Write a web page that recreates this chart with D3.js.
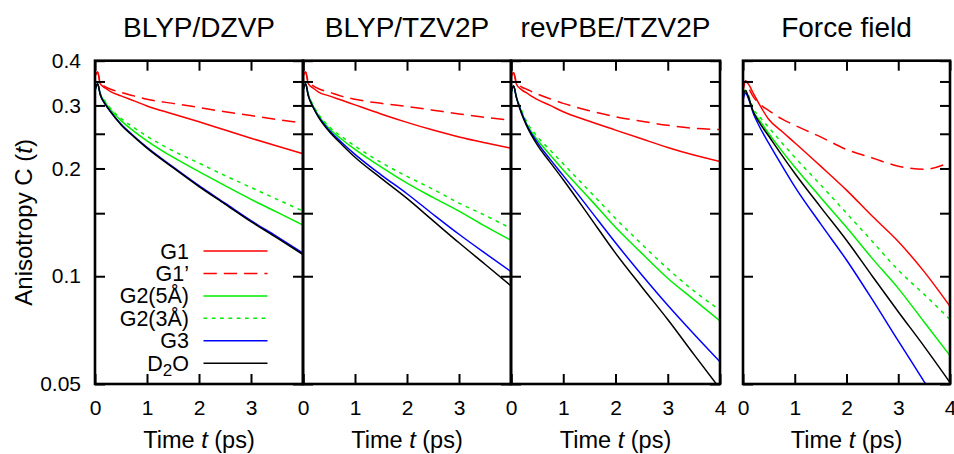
<!DOCTYPE html>
<html>
<head>
<meta charset="utf-8">
<script src="https://cdn.jsdelivr.net/npm/d3@7"></script>
<style>
  html, body { margin: 0; padding: 0; background: #fff; }
  svg { display: block; font-family: "Liberation Sans", Arial, Helvetica, sans-serif; }
</style>
</head>
<body>
<svg id="chart" width="954" height="454"></svg>
<script>
// ---------- data ----------
const times = [0, 0.05, 0.1, 0.2, 0.3, 0.5, 0.75, 1, 1.5, 2, 2.5, 3, 3.5, 4];

const panelTitles = ["BLYP/DZVP", "BLYP/TZV2P", "revPBE/TZV2P", "Force field"];
const seriesNames = ["G1", "G1’", "G2(5Å)", "G2(3Å)", "G3", "D2O"];
const seriesColors = ["#ff0000", "#ff0000", "#00ee00", "#00ee00", "#0000ff", "#000000"];

const yTickValues = [0.4, 0.35, 0.3, 0.25, 0.2, 0.15, 0.1, 0.05];
const yTickLabels = ["0.4", "", "0.3", "", "0.2", "", "0.1", "0.05"];
const xTickValues = [0, 1, 2, 3, 4];

// BLYP/DZVP
const dzvpG1    = [0.362, 0.372, 0.345, 0.335, 0.328, 0.319, 0.309, 0.299, 0.284, 0.270, 0.256, 0.243, 0.231, 0.220];
const dzvpG1p   = [0.362, 0.372, 0.348, 0.338, 0.333, 0.326, 0.319, 0.312, 0.304, 0.296, 0.288, 0.281, 0.274, 0.268];
const dzvpG25   = [0.330, 0.345, 0.324, 0.305, 0.292, 0.272, 0.254, 0.239, 0.215, 0.196, 0.179, 0.164, 0.151, 0.139];
const dzvpG23   = [0.330, 0.345, 0.325, 0.307, 0.294, 0.276, 0.260, 0.246, 0.224, 0.207, 0.191, 0.177, 0.164, 0.152];
const dzvpG3    = [0.330, 0.345, 0.322, 0.302, 0.288, 0.266, 0.246, 0.229, 0.202, 0.179, 0.160, 0.143, 0.129, 0.116];
const dzvpD2O   = [0.330, 0.345, 0.322, 0.302, 0.288, 0.265, 0.245, 0.228, 0.201, 0.178, 0.159, 0.142, 0.128, 0.115];

// BLYP/TZV2P
const tzvG1     = [0.362, 0.372, 0.345, 0.335, 0.327, 0.319, 0.310, 0.301, 0.284, 0.269, 0.256, 0.245, 0.236, 0.228];
const tzvG1p    = [0.362, 0.372, 0.350, 0.340, 0.334, 0.327, 0.318, 0.312, 0.304, 0.298, 0.291, 0.284, 0.278, 0.273];
const tzvG25    = [0.330, 0.345, 0.322, 0.298, 0.281, 0.259, 0.241, 0.226, 0.202, 0.182, 0.166, 0.152, 0.138, 0.126];
const tzvG23    = [0.330, 0.345, 0.323, 0.300, 0.283, 0.262, 0.245, 0.231, 0.208, 0.190, 0.175, 0.160, 0.148, 0.136];
const tzvG3     = [0.330, 0.345, 0.320, 0.296, 0.279, 0.256, 0.236, 0.219, 0.192, 0.170, 0.149, 0.131, 0.116, 0.103];
const tzvD2O    = [0.330, 0.345, 0.320, 0.295, 0.278, 0.254, 0.233, 0.215, 0.188, 0.165, 0.143, 0.124, 0.108, 0.094];

// revPBE/TZV2P
const pbeG1     = [0.360, 0.370, 0.345, 0.332, 0.325, 0.312, 0.300, 0.288, 0.271, 0.256, 0.242, 0.229, 0.218, 0.209];
const pbeG1p    = [0.360, 0.370, 0.350, 0.338, 0.333, 0.323, 0.313, 0.304, 0.290, 0.279, 0.271, 0.264, 0.259, 0.257];
const pbeG25    = [0.325, 0.340, 0.318, 0.288, 0.266, 0.241, 0.218, 0.198, 0.165, 0.137, 0.116, 0.0987, 0.086, 0.075];
const pbeG23    = [0.325, 0.340, 0.319, 0.291, 0.270, 0.246, 0.225, 0.206, 0.173, 0.145, 0.123, 0.105, 0.091, 0.0804];
const pbeG3     = [0.325, 0.340, 0.317, 0.287, 0.265, 0.237, 0.212, 0.191, 0.154, 0.124, 0.101, 0.083, 0.069, 0.0577];
const pbeD2O    = [0.325, 0.340, 0.317, 0.285, 0.263, 0.233, 0.208, 0.186, 0.147, 0.116, 0.0935, 0.0757, 0.0605, 0.0485];

// Force field
const ffG1      = [0.330, 0.350, 0.345, 0.324, 0.305, 0.274, 0.254, 0.236, 0.203, 0.174, 0.147, 0.125, 0.103, 0.0824];
const ffG1p     = [0.330, 0.352, 0.338, 0.317, 0.305, 0.290, 0.275, 0.264, 0.245, 0.226, 0.214, 0.203, 0.199, 0.208];
const ffG25     = [0.330, 0.325, 0.318, 0.288, 0.275, 0.250, 0.224, 0.202, 0.166, 0.137, 0.112, 0.0925, 0.0745, 0.060];
const ffG23     = [0.330, 0.330, 0.322, 0.293, 0.281, 0.260, 0.236, 0.215, 0.180, 0.150, 0.125, 0.104, 0.089, 0.0757];
const ffG3      = [0.310, 0.325, 0.315, 0.285, 0.265, 0.235, 0.204, 0.178, 0.140, 0.111, 0.086, 0.066, 0.0508, 0.039];
const ffD2O     = [0.320, 0.330, 0.318, 0.288, 0.271, 0.246, 0.218, 0.194, 0.156, 0.126, 0.100, 0.0796, 0.0637, 0.0505];

const panelSeries = [
  [dzvpG1, dzvpG1p, dzvpG25, dzvpG23, dzvpG3, dzvpD2O],
  [tzvG1, tzvG1p, tzvG25, tzvG23, tzvG3, tzvD2O],
  [pbeG1, pbeG1p, pbeG25, pbeG23, pbeG3, pbeD2O],
  [ffG1, ffG1p, ffG25, ffG23, ffG3, ffD2O]
];

// ---------- layout ----------
const svg = d3.select("#chart");
const panelBounds = [[95, 303], [303, 511], [511, 720], [743, 950]];
const yTop = 60.7, yBot = 384;
const dashes = [null, "13.3,7", null, "3.7,4.6", null, null];
const tickLen = 10;

const y = d3.scaleLog().domain([0.05, 0.4]).range([yBot, yTop]);

const xTickLabelsFor = [
  ["0", "1", "2", "3", ""],
  ["0", "1", "2", "3", ""],
  ["0", "1", "2", "3", "4"],
  ["0", "1", "2", "3", "4"]
];

panelBounds.forEach((b, pi) => {
  const x = d3.scaleLinear().domain([0, 4]).range(b);
  const g = svg.append("g");

  const clipId = "clip" + pi;
  svg.append("clipPath").attr("id", clipId)
    .append("rect").attr("x", b[0]).attr("y", yTop).attr("width", b[1] - b[0]).attr("height", yBot - yTop);

  const line = d3.line()
    .x((d, i) => x(times[i]))
    .y(d => y(d))
    .curve(d3.curveMonotoneX);
  const lg = g.append("g").attr("clip-path", `url(#${clipId})`);
  panelSeries[pi].forEach((vals, si) => {
    lg.append("path")
      .attr("d", line(vals))
      .attr("fill", "none")
      .attr("stroke", seriesColors[si])
      .attr("stroke-width", 1.5)
      .attr("stroke-dasharray", dashes[si]);
  });

  const styleAxis = sel => {
    sel.select(".domain").remove();
    sel.selectAll(".tick line").attr("stroke", "#000").attr("stroke-width", 2);
    sel.selectAll("text").attr("fill", "#000");
  };

  const left = d3.axisLeft(y).tickValues(yTickValues).tickSize(-tickLen).tickPadding(14)
    .tickFormat((d, i) => pi === 0 ? yTickLabels[i] : "");
  g.append("g").attr("transform", `translate(${b[0]},0)`).call(left).call(styleAxis)
    .selectAll("text").attr("font-size", 21).attr("font-family", null);

  const right = d3.axisRight(y).tickValues(yTickValues).tickSize(-tickLen).tickFormat("");
  g.append("g").attr("transform", `translate(${b[1]},0)`).call(right).call(styleAxis);

  const bottom = d3.axisBottom(x).tickValues(xTickValues).tickSize(-tickLen).tickPadding(16)
    .tickFormat((d, i) => xTickLabelsFor[pi][i]);
  g.append("g").attr("transform", `translate(0,${yBot})`).call(bottom).call(styleAxis)
    .selectAll("text").attr("font-size", 21).attr("font-family", null);

  const top = d3.axisTop(x).tickValues(xTickValues).tickSize(-tickLen).tickFormat("");
  g.append("g").attr("transform", `translate(0,${yTop})`).call(top).call(styleAxis);

  g.append("rect").attr("x", b[0]).attr("y", yTop).attr("width", b[1] - b[0]).attr("height", yBot - yTop)
    .attr("fill", "none").attr("stroke", "#000").attr("stroke-width", 2.6);

  g.append("text").attr("x", (b[0] + b[1]) / 2).attr("y", 36.7)
    .attr("text-anchor", "middle").attr("font-size", 28).text(panelTitles[pi]);

  const xt = g.append("text").attr("x", (b[0] + b[1]) / 2).attr("y", 448)
    .attr("text-anchor", "middle").attr("font-size", 23.5);
  xt.append("tspan").text("Time ");
  xt.append("tspan").attr("font-style", "italic").text("t");
  xt.append("tspan").text(" (ps)");
});

const yt = svg.append("text")
  .attr("transform", `translate(32,${(yTop + yBot) / 2}) rotate(-90)`)
  .attr("text-anchor", "middle").attr("font-size", 24);
yt.append("tspan").text("Anisotropy C (");
yt.append("tspan").attr("font-style", "italic").text("t");
yt.append("tspan").text(")");

const legY0 = 251, legDy = 22.45;
const leg = svg.append("g");
seriesNames.forEach((name, i) => {
  const yy = legY0 + i * legDy;
  leg.append("line").attr("x1", 203.5).attr("x2", 267.5).attr("y1", yy).attr("y2", yy)
    .attr("stroke", seriesColors[i]).attr("stroke-width", 1.5)
    .attr("stroke-dasharray", dashes[i]);
  const t = leg.append("text").attr("x", 189).attr("y", yy + 7.5)
    .attr("text-anchor", "end").attr("font-size", 21.5);
  if (name === "D2O") {
    t.append("tspan").text("D");
    t.append("tspan").attr("font-size", 17).attr("dy", 5.5).text("2");
    t.append("tspan").attr("dy", -5.5).text("O");
  } else {
    t.text(name);
  }
});
</script>
</body>
</html>
